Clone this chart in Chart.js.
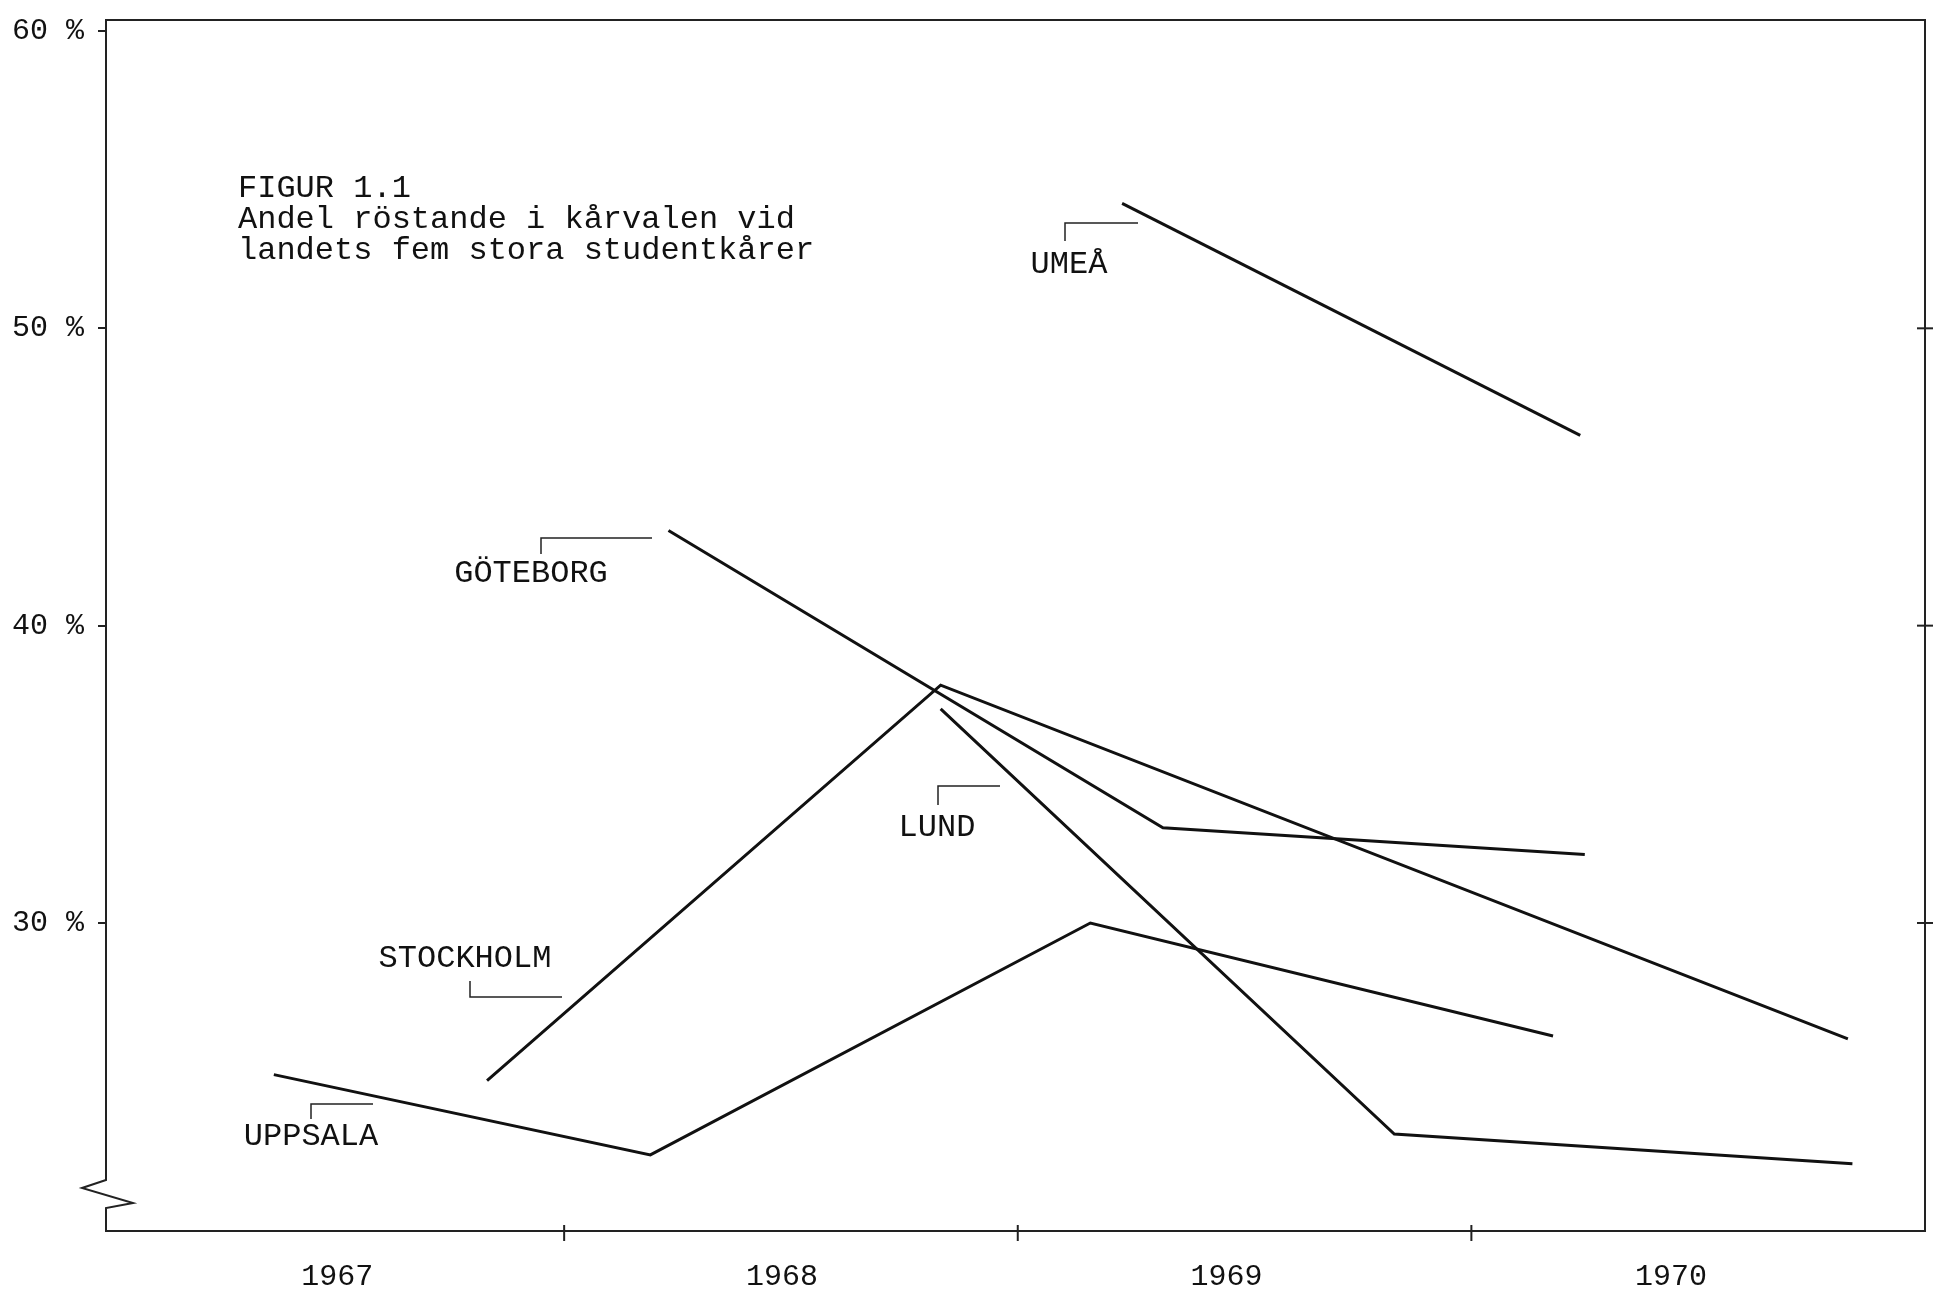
<!DOCTYPE html>
<html>
<head>
<meta charset="utf-8">
<script src="https://cdn.jsdelivr.net/npm/chart.js@4.4.0/dist/chart.umd.min.js"></script>
<style>
  html, body { margin: 0; padding: 0; background: #fff; }
</style>
</head>
<body>
<canvas id="myChart" width="1935" height="1305"></canvas>
<script>
// Andel röstande (%) per kår, x = tidpunkt för valet (år)
const uppsalaAr = [1967.36, 1968.19, 1969.16, 1970.18];
const uppsala = [24.9, 22.2, 30.0, 26.2];

const stockholmAr = [1967.83, 1968.83, 1970.83];
const stockholm = [24.7, 38.0, 26.1];

const goteborgAr = [1968.23, 1969.32, 1970.25];
const goteborg = [43.2, 33.2, 32.3];

const lundAr = [1968.83, 1969.83, 1970.84];
const lund = [37.2, 22.9, 21.9];

const umeaAr = [1969.23, 1970.24];
const umea = [54.2, 46.4];

const arEtiketter = ['1967', '1968', '1969', '1970'];
const etikettPos = [1967.5, 1968.48, 1969.46, 1970.44];
const arGranser = [1968, 1969, 1970];
const yTicks = [30, 40, 50, 60];

const font = "'Liberation Mono', monospace";
const svart = '#111';

function punkter(ar, varden) {
    return ar.map((x, i) => ({ x: x, y: varden[i] }));
}

const serier = [
    { label: 'UPPSALA', data: punkter(uppsalaAr, uppsala) },
    { label: 'STOCKHOLM', data: punkter(stockholmAr, stockholm) },
    { label: 'GÖTEBORG', data: punkter(goteborgAr, goteborg) },
    { label: 'LUND', data: punkter(lundAr, lund) },
    { label: 'UMEÅ', data: punkter(umeaAr, umea) }
];

// ram, axelbrott, streck och texter
const ritaExtra = {
    id: 'ritaExtra',
    afterDraw(chart) {
        const { ctx, chartArea: a, scales: { x, y } } = chart;
        ctx.save();
        ctx.strokeStyle = '#222';
        ctx.lineWidth = 2;
        ctx.lineJoin = 'miter';

        // ram: vänster med brott, topp, höger
        ctx.beginPath();
        ctx.moveTo(a.left, a.bottom);
        ctx.lineTo(a.left, a.bottom - 23);
        ctx.lineTo(a.left + 27, a.bottom - 28);
        ctx.lineTo(a.left - 24, a.bottom - 43);
        ctx.lineTo(a.left, a.bottom - 51);
        ctx.lineTo(a.left, a.top);
        ctx.lineTo(a.right, a.top);
        ctx.lineTo(a.right, a.bottom);
        ctx.stroke();

        // streck på höger axel
        yTicks.slice(0, 3).forEach(v => {
            const py = y.getPixelForValue(v);
            ctx.beginPath();
            ctx.moveTo(a.right - 8, py);
            ctx.lineTo(a.right + 8, py);
            ctx.stroke();
        });

        // årsgränser på x-axeln
        arGranser.forEach(v => {
            const px = x.getPixelForValue(v);
            ctx.beginPath();
            ctx.moveTo(px, a.bottom - 6);
            ctx.lineTo(px, a.bottom + 10);
            ctx.stroke();
        });

        // hakar vid etiketterna
        ctx.lineWidth = 1.5;
        const hakar = [
            [[1065, 241], [1065, 223], [1138, 223]],
            [[541, 554], [541, 538], [652, 538]],
            [[938, 805], [938, 786], [1000, 786]],
            [[470, 981], [470, 997], [562, 997]],
            [[311, 1119], [311, 1104], [373, 1104]]
        ];
        hakar.forEach(h => {
            ctx.beginPath();
            ctx.moveTo(h[0][0], h[0][1]);
            ctx.lineTo(h[1][0], h[1][1]);
            ctx.lineTo(h[2][0], h[2][1]);
            ctx.stroke();
        });

        ctx.fillStyle = svart;
        ctx.textBaseline = 'middle';
        ctx.textAlign = 'center';
        ctx.font = '32px ' + font;
        const namnPos = {
            'UMEÅ': [1069, 265],
            'GÖTEBORG': [531, 574],
            'LUND': [937, 828],
            'STOCKHOLM': [465, 959],
            'UPPSALA': [311, 1137]
        };
        serier.forEach(s => {
            const p = namnPos[s.label];
            ctx.fillText(s.label, p[0], p[1]);
        });

        ctx.textAlign = 'left';
        ctx.fillText('FIGUR 1.1', 238, 189);
        ctx.fillText('Andel röstande i kårvalen vid', 238, 220);
        ctx.fillText('landets fem stora studentkårer', 238, 251);
        ctx.restore();
    }
};

const ctx = document.getElementById('myChart').getContext('2d');
new Chart(ctx, {
    type: 'line',
    data: {
        datasets: serier.map(s => ({
            label: s.label,
            data: s.data,
            borderColor: svart,
            borderWidth: 3,
            pointRadius: 0,
            fill: false,
            tension: 0
        }))
    },
    options: {
        responsive: false,
        animation: false,
        devicePixelRatio: 1,
        layout: { padding: { top: 20, right: 10, left: 0, bottom: 0 } },
        plugins: {
            legend: { display: false },
            tooltip: { enabled: false }
        },
        scales: {
            x: {
                type: 'linear',
                min: 1966.99,
                max: 1971,
                afterBuildTicks: s => { s.ticks = etikettPos.map(v => ({ value: v })); },
                afterFit: s => { s.height = 74; s.paddingLeft = 0; s.paddingRight = 0; },
                grid: { display: false, drawTicks: false },
                border: { display: true, color: '#222', width: 2 },
                ticks: {
                    autoSkip: false,
                    maxRotation: 0,
                    padding: 28,
                    color: svart,
                    font: { family: font, size: 30 },
                    callback: (v, i) => arEtiketter[i]
                }
            },
            y: {
                min: 19.64,
                max: 60.37,
                afterBuildTicks: s => { s.ticks = yTicks.map(v => ({ value: v })); },
                afterFit: s => { s.width = 106; s.paddingTop = 0; s.paddingBottom = 0; },
                grid: { drawOnChartArea: false, tickLength: 8, tickColor: '#222', lineWidth: 2 },
                border: { display: false },
                ticks: {
                    padding: 14,
                    color: svart,
                    font: { family: font, size: 30 },
                    callback: v => v + ' %'
                }
            }
        }
    },
    plugins: [ritaExtra]
});
</script>
</body>
</html>
